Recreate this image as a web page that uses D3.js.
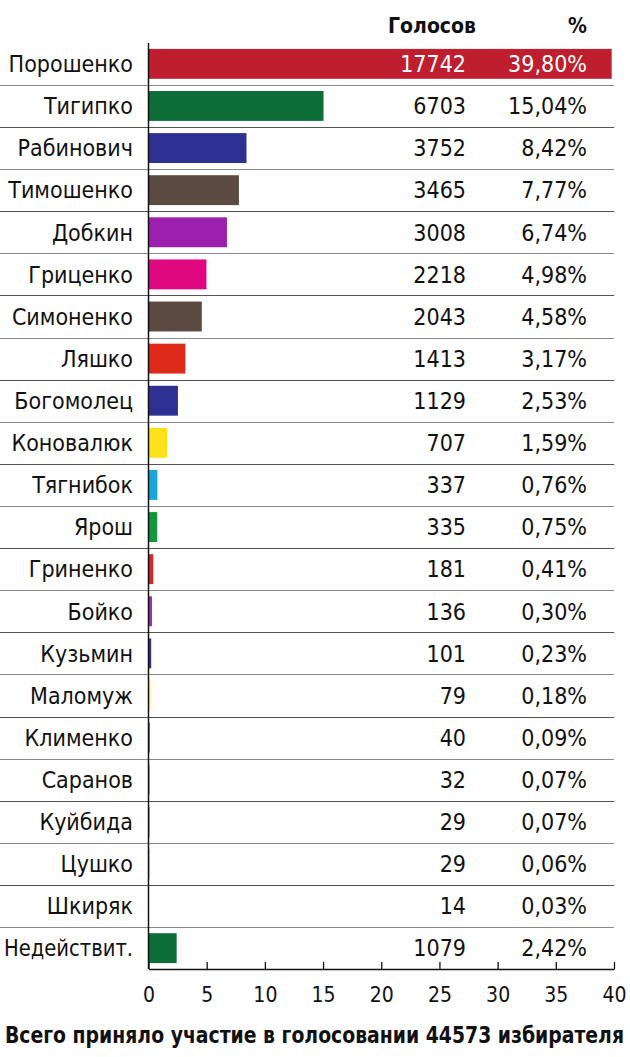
<!DOCTYPE html>
<html><head><meta charset="utf-8">
<script src="https://cdn.jsdelivr.net/npm/d3@7"></script>
<style>
body{margin:0;background:#fff;}
text{font-family:"Liberation Sans Narrow","DejaVu Sans Condensed","Liberation Sans",sans-serif;}
</style></head>
<body><svg id="c" width="630" height="1057"></svg>
<script>
const names = ["Порошенко","Тигипко","Рабинович","Тимошенко","Добкин","Гриценко","Симоненко","Ляшко","Богомолец","Коновалюк","Тягнибок","Ярош","Гриненко","Бойко","Кузьмин","Маломуж","Клименко","Саранов","Куйбида","Цушко","Шкиряк","Недействит."];
const votes = [17742,6703,3752,3465,3008,2218,2043,1413,1129,707,337,335,181,136,101,79,40,32,29,29,14,1079];
const percents = [39.80,15.04,8.42,7.77,6.74,4.98,4.58,3.17,2.53,1.59,0.76,0.75,0.41,0.30,0.23,0.18,0.09,0.07,0.07,0.06,0.03,2.42];
const colors = ["#be1e2d","#0e6e3a","#2e3192","#5a4a42","#9d1fae","#e0087f","#5a4a42","#dd2a1b","#2e3192","#ffe11a","#1aa4dc","#11963c","#d7262b","#9b2ec0","#2e3192","#fff27a","#111","#111","#111","#111","#111","#0e6e3a"];
const ticks = [0,5,10,15,20,25,30,35,40];
const headerVotes = "Голосов", headerPct = "%";
const footer = "Всего приняло участие в голосовании 44573 избирателя";

const svg = d3.select("#c");
const x0 = 148.5, x1 = 614;
const x = d3.scaleLinear().domain([0,40]).range([x0,x1]);
const y = d3.scaleBand().domain(names).range([43,969]).paddingInner(0.29).paddingOuter(0.14);
const step = y.step();
const fmt = v => v.toFixed(2).replace(".",",") + "%";

// separators
svg.append("g").selectAll("line").data(names.slice(1)).join("line")
  .attr("x1",0).attr("x2",x1)
  .attr("y1",d=>Math.round(y(d) - (step - y.bandwidth())/2)+0.5)
  .attr("y2",d=>Math.round(y(d) - (step - y.bandwidth())/2)+0.5)
  .attr("stroke",(d,i)=> i%2===0 ? "#8a8a8a" : "#555").attr("stroke-width",1.2);

// bars
svg.append("g").selectAll("rect").data(names).join("rect")
  .attr("x",x(0)).attr("y",d=>y(d))
  .attr("width",(d,i)=>Math.max(0,x(percents[i])-x(0)))
  .attr("height",y.bandwidth())
  .attr("fill",(d,i)=>colors[i]);

// labels
const fs = 23;
svg.append("g").selectAll("text").data(names).join("text")
  .attr("x",133).attr("y",d=>y(d)+y.bandwidth()/2).attr("dy","0.36em")
  .attr("text-anchor","end").attr("font-size",fs).attr("fill","#111").text(d=>d)
  .each(function(){ if(this.getComputedTextLength()>129){ d3.select(this).attr("textLength",129).attr("lengthAdjust","spacingAndGlyphs"); } });

svg.append("g").selectAll("text").data(votes).join("text")
  .attr("x",466).attr("y",(d,i)=>y(names[i])+y.bandwidth()/2).attr("dy","0.36em")
  .attr("text-anchor","end").attr("font-size",fs).attr("fill",(d,i)=>i===0?"#fff":"#111").text(d=>d);

svg.append("g").selectAll("text").data(percents).join("text")
  .attr("x",587).attr("y",(d,i)=>y(names[i])+y.bandwidth()/2).attr("dy","0.36em")
  .attr("text-anchor","end").attr("font-size",fs).attr("fill",(d,i)=>i===0?"#fff":"#111").text(d=>fmt(d));

// headers
svg.append("text").attr("x",476).attr("y",33).attr("text-anchor","end").attr("font-size",21).attr("font-weight","bold").attr("fill","#111").text(headerVotes);
svg.append("text").attr("x",587).attr("y",33).attr("text-anchor","end").attr("font-size",21).attr("font-weight","bold").attr("fill","#111").text(headerPct);

// y axis line
svg.append("line").attr("x1",x0).attr("x2",x0).attr("y1",43).attr("y2",969).attr("stroke","#111").attr("stroke-width",1.5);

// x axis
const ax = d3.axisBottom(x).tickValues(ticks).tickSize(-7).tickPadding(18).tickSizeOuter(0).tickFormat(d=>d);
const g = svg.append("g").attr("transform","translate(0,969)").call(ax);
g.select(".domain").attr("stroke","#111").attr("stroke-width",1.5);
g.selectAll(".tick line").attr("stroke","#111").attr("stroke-width",1.3);
g.selectAll(".tick text").attr("font-size",21).attr("fill","#111")
  .attr("font-family",'"Liberation Sans Narrow","DejaVu Sans Condensed",sans-serif');

// footer
svg.append("text").attr("transform","translate(5,1043) scale(1,1.2)").attr("font-size",19).attr("font-weight","bold").attr("fill","#111")
  .attr("textLength",619).attr("lengthAdjust","spacingAndGlyphs").text(footer);
</script></body></html>
